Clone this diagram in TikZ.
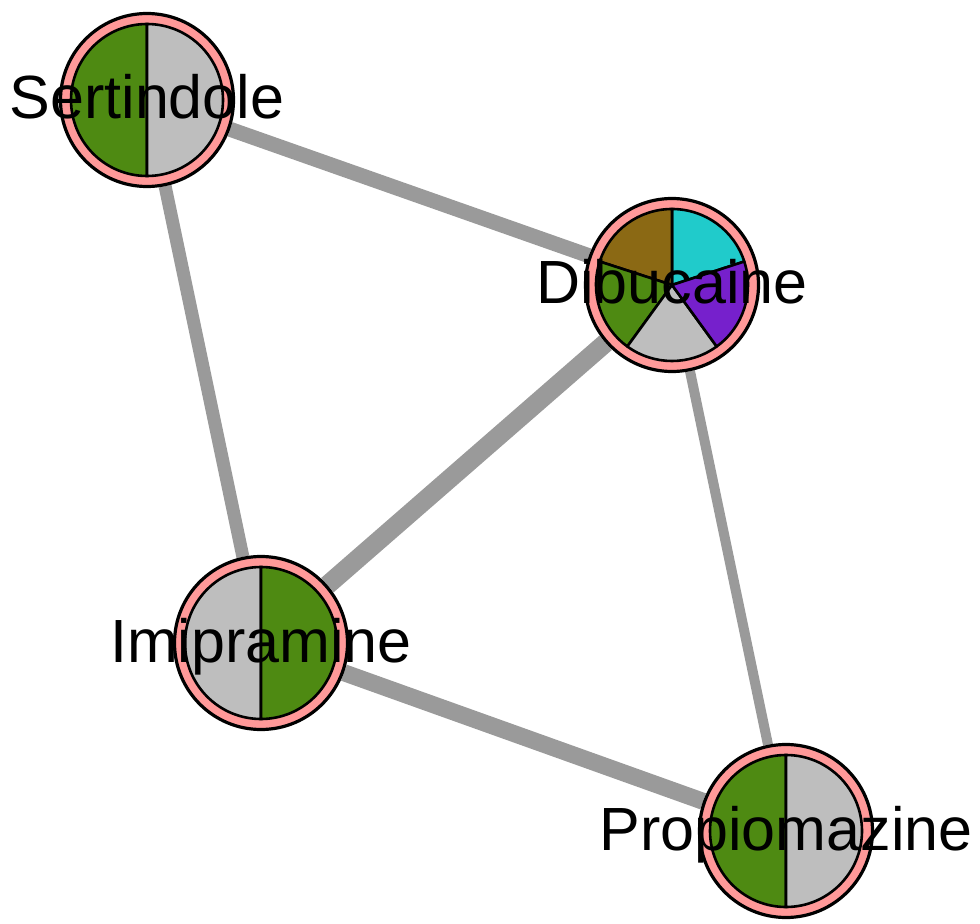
\documentclass[tikz,border=0pt]{standalone}
\usepackage{fontspec}
\setmainfont{Liberation Sans}
\usetikzlibrary{backgrounds}
\definecolor{ringpink}{HTML}{FF9999}
\definecolor{edgegray}{HTML}{9A9A9A}
\definecolor{piegreen}{HTML}{4E8A12}
\definecolor{piegray}{HTML}{BEBEBE}
\definecolor{piecyan}{HTML}{20CBCB}
\definecolor{piepurple}{HTML}{7620CC}
\definecolor{piebrown}{HTML}{8B6914}
\tikzset{
	drugnode/.style = {circle, minimum size=86.5pt, inner sep=0pt, fill=ringpink, draw=black, line width=1.6pt},
	drugname/.style = {font=\fontsize{30.5}{36}\selectfont, inner sep=0pt, anchor=base},
	slice/.style = {draw=black, line width=1.3pt, line join=round},
	edge/.style = {draw=edgegray, line cap=butt}
}

\begin{document}
\begin{tikzpicture}[x=0.5pt, y=0.5pt]
		\useasboundingbox (0,0) rectangle (980,923);
		%nodes
		\node (sert) [drugnode] at (147,823) {};
		\node (dib) [drugnode] at (672,638) {};
		\node (imi) [drugnode] at (261,280) {};
		\node (prop) [drugnode] at (786,92) {};

		%edges
		\begin{scope}[on background layer]
		\path [edge, line width=7.5pt](sert) -- (dib);
		\path [edge, line width=6.5pt](sert) -- (imi);
		\path [edge, line width=9.5pt](dib) -- (imi);
		\path [edge, line width=5pt](dib) -- (prop);
		\path [edge, line width=8.5pt](imi) -- (prop);
		\end{scope}

		%pies
		\filldraw [slice, fill=piegreen](sert.center) -- ++(90:38pt) arc[start angle=90, end angle=270, radius=38pt] -- cycle;
		\filldraw [slice, fill=piegray](sert.center) -- ++(-90:38pt) arc[start angle=-90, end angle=90, radius=38pt] -- cycle;
		\filldraw [slice, fill=piegray](imi.center) -- ++(90:38pt) arc[start angle=90, end angle=270, radius=38pt] -- cycle;
		\filldraw [slice, fill=piegreen](imi.center) -- ++(-90:38pt) arc[start angle=-90, end angle=90, radius=38pt] -- cycle;
		\filldraw [slice, fill=piegreen](prop.center) -- ++(90:38pt) arc[start angle=90, end angle=270, radius=38pt] -- cycle;
		\filldraw [slice, fill=piegray](prop.center) -- ++(-90:38pt) arc[start angle=-90, end angle=90, radius=38pt] -- cycle;
		\filldraw [slice, fill=piecyan](dib.center) -- ++(18:38pt) arc[start angle=18, end angle=90, radius=38pt] -- cycle;
		\filldraw [slice, fill=piebrown](dib.center) -- ++(90:38pt) arc[start angle=90, end angle=162, radius=38pt] -- cycle;
		\filldraw [slice, fill=piegreen](dib.center) -- ++(162:38pt) arc[start angle=162, end angle=234, radius=38pt] -- cycle;
		\filldraw [slice, fill=piegray](dib.center) -- ++(234:38pt) arc[start angle=234, end angle=306, radius=38pt] -- cycle;
		\filldraw [slice, fill=piepurple](dib.center) -- ++(306:38pt) arc[start angle=306, end angle=378, radius=38pt] -- cycle;

		%names
		\node (sert_name) [drugname] at ([yshift=-9.5pt]sert.center) {Sertindole};
		\node (dib_name) [drugname] at ([yshift=-9.5pt]dib.center) {Dibucaine};
		\node (imi_name) [drugname] at ([yshift=-9.5pt]imi.center) {Imipramine};
		\node (prop_name) [drugname] at ([yshift=-9.5pt]prop.center) {Propiomazine};
\end{tikzpicture}
\end{document}
